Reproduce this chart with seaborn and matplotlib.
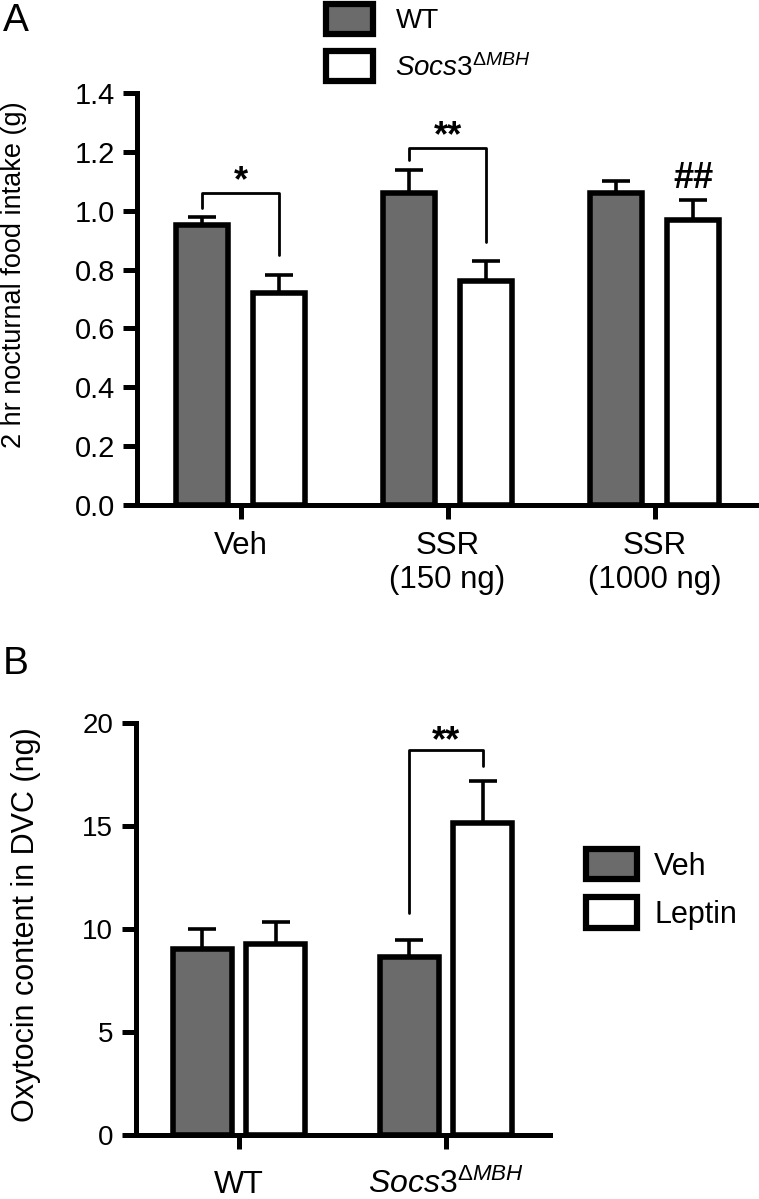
import numpy as np
import pandas as pd
import seaborn as sns
import matplotlib.pyplot as plt
from matplotlib.patches import Patch

# ---------------------------------------------------------
# DADES
# ---------------------------------------------------------
TRACTAMENTS_A = ['Veh', 'SSR\n(150 ng)', 'SSR\n(1000 ng)']
WT_A = [0.95, 1.06, 1.06]
WT_A_SEM = [0.03, 0.08, 0.04]
SOCS_A = [0.72, 0.76, 0.97]
SOCS_A_SEM = [0.06, 0.07, 0.065]

GENOTIPS_B = ['WT', 'Socs3']
VEH_B = [9.0, 8.65]
VEH_B_SEM = [1.0, 0.8]
LEPTIN_B = [9.25, 15.15]
LEPTIN_B_SEM = [1.1, 2.0]

SOCS_LABEL = r'$\mathit{Socs3}^{\Delta \mathit{MBH}}$'
GRIS = '#6b6b6b'

# ---------------------------------------------------------
# ESTIL
# ---------------------------------------------------------
sns.set_style('ticks')
plt.rcParams['font.family'] = ['Liberation Sans', 'DejaVu Sans']
plt.rcParams['mathtext.fontset'] = 'custom'
plt.rcParams['mathtext.rm'] = 'Liberation Sans'
plt.rcParams['mathtext.it'] = 'Liberation Sans:italic'
plt.rcParams['mathtext.bf'] = 'Liberation Sans:bold'
for k in ['text.color', 'axes.labelcolor', 'xtick.color', 'ytick.color', 'axes.edgecolor']:
    plt.rcParams[k] = 'black'

fig = plt.figure(figsize=(7.59, 11.99), dpi=100)
W, H = 759, 1199
axA = fig.add_axes([137 / W, (H - 505) / H, 621 / W, (505 - 93) / H])
axB = fig.add_axes([135.5 / W, (H - 1135) / H, 414 / W, (1135 - 722.7) / H])


def estil_eixos(ax):
    for s in ['top', 'right']:
        ax.spines[s].set_visible(False)
    for s in ['left', 'bottom']:
        ax.spines[s].set_linewidth(3.6)
    ax.tick_params(axis='both', width=3.6, length=10, direction='out')


def afegir_errors(ax, sems):
    # nomes la meitat superior de la barra d'error
    for cont, sem in zip(ax.containers, sems):
        xs = [b.get_x() + b.get_width() / 2 for b in cont]
        ys = [b.get_height() for b in cont]
        ax.errorbar(xs, ys, yerr=[np.zeros(len(sem)), sem], fmt='none',
                    ecolor='black', elinewidth=2.6, capsize=10, capthick=2.6, zorder=3)


def centres(ax):
    return [[b.get_x() + b.get_width() / 2 for b in cont] for cont in ax.containers[:2]]


def claudator(ax, x1, x2, y1, y2, ytop, txt, ytxt):
    ax.plot([x1, x1, x2, x2], [y1, ytop, ytop, y2], color='black', lw=2, zorder=3)
    ax.text((x1 + x2) / 2, ytxt, txt, ha='center', va='center', fontsize=26, fontweight='bold')


# ---------------------------------------------------------
# PANELL A
# ---------------------------------------------------------
df_a = pd.DataFrame({
    'tractament': TRACTAMENTS_A * 2,
    'ingesta': WT_A + SOCS_A,
    'genotip': ['WT'] * 3 + ['Socs3'] * 3,
})
sns.barplot(data=df_a, x='tractament', y='ingesta', hue='genotip',
            palette={'WT': GRIS, 'Socs3': 'white'}, saturation=1,
            width=0.744, gap=0.325, edgecolor='black', linewidth=4,
            errorbar=None, legend=False, ax=axA)
afegir_errors(axA, [WT_A_SEM, SOCS_A_SEM])
estil_eixos(axA)
axA.set_ylim(0, 1.4)
axA.set_xlim(-0.5, 2.5)
axA.set_yticks(np.arange(0, 1.41, 0.2))
axA.set_yticklabels([f'{v:.1f}' for v in np.arange(0, 1.41, 0.2)], fontsize=21)
axA.tick_params(axis='y', pad=6)
axA.tick_params(axis='x', pad=9)
for t in axA.get_xticklabels():
    t.set_fontsize(22.5)
    t.set_linespacing(1.15)
axA.set_xlabel('')
axA.set_ylabel('2 hr nocturnal food intake (g)', fontsize=19.5)
axA.yaxis.set_label_coords(-0.177, 0.56)

cA = centres(axA)
claudator(axA, cA[0][0], cA[1][0], 1.009, 0.85, 1.059, '*', 1.098)
claudator(axA, cA[0][1], cA[1][1], 1.172, 0.895, 1.212, '**', 1.25)
axA.text(cA[1][2], 1.108, '##', ha='center', va='center', fontsize=26, fontweight='bold')

handles_a = [Patch(facecolor=GRIS, edgecolor='black', linewidth=4.5),
             Patch(facecolor='white', edgecolor='black', linewidth=4.5)]
fig.legend(handles_a, ['WT', SOCS_LABEL], loc='upper left',
           bbox_to_anchor=(326 / W, 1 - 4 / H), frameon=False, fontsize=20,
           handlelength=1.7, handleheight=1.3, handletextpad=0.8,
           labelspacing=0.6, borderpad=0, borderaxespad=0)

# ---------------------------------------------------------
# PANELL B
# ---------------------------------------------------------
df_b = pd.DataFrame({
    'genotip': GENOTIPS_B * 2,
    'oxitocina': VEH_B + LEPTIN_B,
    'tractament': ['Veh'] * 2 + ['Leptin'] * 2,
})
sns.barplot(data=df_b, x='genotip', y='oxitocina', hue='tractament',
            palette={'Veh': GRIS, 'Leptin': 'white'}, saturation=1,
            width=0.706, gap=0.18, edgecolor='black', linewidth=4,
            errorbar=None, legend=False, ax=axB)
afegir_errors(axB, [VEH_B_SEM, LEPTIN_B_SEM])
estil_eixos(axB)
axB.set_ylim(0, 20)
axB.set_xlim(-0.5, 1.5)
axB.set_yticks([0, 5, 10, 15, 20])
axB.set_yticklabels(['0', '5', '10', '15', '20'], fontsize=20)
axB.tick_params(axis='y', pad=6)
axB.set_xticks([0, 1])
axB.set_xticklabels(['WT', SOCS_LABEL], fontsize=23)
for t in axB.get_xticklabels():
    t.set_verticalalignment('baseline')
axB.tick_params(axis='x', pad=32)
axB.set_xlabel('')
axB.set_ylabel('Oxytocin content in DVC (ng)', fontsize=22)
axB.yaxis.set_label_coords(-0.228, 0.51)

cB = centres(axB)
claudator(axB, cB[0][1], cB[1][1], 10.77, 17.88, 18.69, '**', 19.06)

handles_b = [Patch(facecolor=GRIS, edgecolor='black', linewidth=4.5),
             Patch(facecolor='white', edgecolor='black', linewidth=4.5)]
fig.legend(handles_b, ['Veh', 'Leptin'], loc='upper left',
           bbox_to_anchor=(586 / W, 1 - 849 / H), frameon=False, fontsize=22,
           handlelength=1.68, handleheight=1.15, handletextpad=0.55,
           labelspacing=0.52, borderpad=0, borderaxespad=0)

# lletres de panell
fig.text(3 / W, 1 - 3 / H, 'A', fontsize=28, ha='left', va='top')
fig.text(3 / W, 1 - 646 / H, 'B', fontsize=28, ha='left', va='top')

plt.savefig('out.png', dpi=100)
plt.close()
